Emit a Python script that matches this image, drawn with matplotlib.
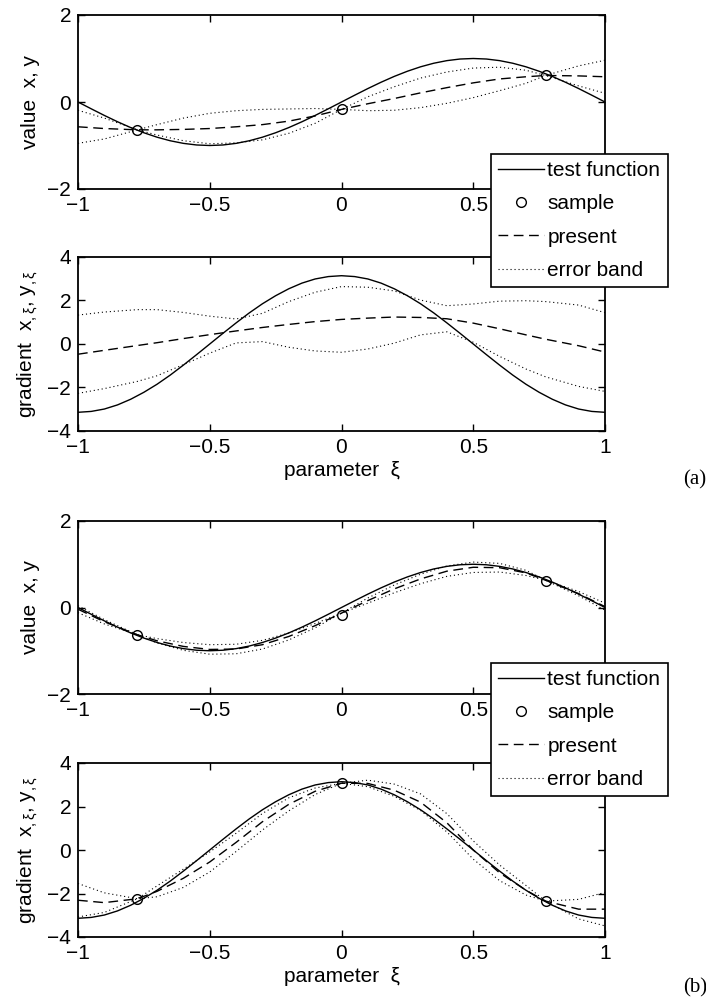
import matplotlib
matplotlib.use("Agg")
import matplotlib.pyplot as plt

plt.rcParams['font.family'] = ['Liberation Sans', 'DejaVu Sans']
plt.rcParams['mathtext.fontset'] = 'custom'
plt.rcParams['mathtext.rm'] = 'Liberation Sans'
plt.rcParams['mathtext.it'] = 'Liberation Sans:italic'

# fine grid for the exact test function, coarse grid for the fitted curves
xi_fine = [-1.0, -0.95, -0.9, -0.85, -0.8, -0.75, -0.7, -0.65, -0.6, -0.55, -0.5,
           -0.45, -0.4, -0.35, -0.3, -0.25, -0.2, -0.15, -0.1, -0.05, 0.0,
           0.05, 0.1, 0.15, 0.2, 0.25, 0.3, 0.35, 0.4, 0.45, 0.5,
           0.55, 0.6, 0.65, 0.7, 0.75, 0.8, 0.85, 0.9, 0.95, 1.0]
test_value = [0.0, -0.156, -0.309, -0.454, -0.588, -0.707, -0.809, -0.891, -0.951, -0.988, -1.0,
              -0.988, -0.951, -0.891, -0.809, -0.707, -0.588, -0.454, -0.309, -0.156, 0.0,
              0.156, 0.309, 0.454, 0.588, 0.707, 0.809, 0.891, 0.951, 0.988, 1.0,
              0.988, 0.951, 0.891, 0.809, 0.707, 0.588, 0.454, 0.309, 0.156, 0.0]
test_grad = [-3.14, -3.10, -2.99, -2.80, -2.54, -2.22, -1.85, -1.43, -0.97, -0.49, 0.0,
             0.49, 0.97, 1.43, 1.85, 2.22, 2.54, 2.80, 2.99, 3.10, 3.14,
             3.10, 2.99, 2.80, 2.54, 2.22, 1.85, 1.43, 0.97, 0.49, 0.0,
             -0.49, -0.97, -1.43, -1.85, -2.22, -2.54, -2.80, -2.99, -3.10, -3.14]

xi = [-1.0, -0.9, -0.7746, -0.7, -0.6, -0.5, -0.4, -0.3, -0.2, -0.1, 0.0,
      0.1, 0.2, 0.3, 0.4, 0.5, 0.6, 0.7, 0.7746, 0.9, 1.0]

xi_sample = [-0.7746, 0.0, 0.7746]
sample_value = [-0.64, -0.17, 0.61]
sample_grad = [-2.24, 3.07, -2.35]

# (a) value-only samples
a_val_present = [-0.57, -0.61, -0.64, -0.64, -0.63, -0.61, -0.57, -0.52, -0.44, -0.32, -0.17,
                 -0.04, 0.08, 0.21, 0.33, 0.44, 0.53, 0.58, 0.61, 0.60, 0.58]
a_val_band1 = [-0.19, -0.37, -0.64, -0.76, -0.89, -0.96, -0.94, -0.87, -0.72, -0.49, -0.17,
               0.12, 0.35, 0.55, 0.69, 0.78, 0.80, 0.73, 0.61, 0.37, 0.20]
a_val_band2 = [-0.95, -0.85, -0.64, -0.52, -0.37, -0.26, -0.20, -0.17, -0.16, -0.15, -0.17,
               -0.20, -0.19, -0.13, -0.03, 0.10, 0.26, 0.43, 0.61, 0.83, 0.96]

a_grad_present = [-0.47, -0.29, -0.07, 0.06, 0.25, 0.43, 0.60, 0.76, 0.90, 1.03, 1.13,
                  1.19, 1.24, 1.22, 1.16, 0.96, 0.70, 0.42, 0.22, -0.08, -0.37]
a_grad_upper = [1.33, 1.47, 1.58, 1.58, 1.45, 1.28, 1.15, 1.41, 1.95, 2.38, 2.64,
                2.61, 2.44, 2.02, 1.76, 1.84, 1.97, 1.99, 1.95, 1.79, 1.44]
a_grad_lower = [-2.27, -2.05, -1.72, -1.46, -0.95, -0.42, 0.05, 0.11, -0.15, -0.32, -0.38,
                -0.23, 0.04, 0.42, 0.56, 0.08, -0.57, -1.15, -1.51, -1.95, -2.18]

# (b) value and gradient samples
b_val_present = [-0.04, -0.33, -0.63, -0.77, -0.90, -0.97, -0.96, -0.86, -0.67, -0.42, -0.13,
                 0.16, 0.43, 0.66, 0.84, 0.93, 0.92, 0.80, 0.63, 0.32, 0.02]
b_val_band1 = [0.04, -0.28, -0.63, -0.82, -0.99, -1.08, -1.07, -0.96, -0.75, -0.47, -0.13,
               0.22, 0.52, 0.77, 0.96, 1.05, 1.02, 0.86, 0.63, 0.27, -0.06]
b_val_band2 = [-0.12, -0.38, -0.63, -0.72, -0.81, -0.86, -0.85, -0.76, -0.59, -0.37, -0.13,
               0.10, 0.34, 0.55, 0.72, 0.81, 0.82, 0.74, 0.63, 0.37, 0.10]

b_grad_present = [-2.31, -2.42, -2.24, -1.90, -1.30, -0.55, 0.35, 1.30, 2.10, 2.70, 3.07,
                  3.06, 2.75, 2.20, 1.25, 0.0, -1.05, -1.85, -2.35, -2.72, -2.72]
b_grad_band1 = [-1.54, -1.97, -2.24, -2.15, -1.72, -1.01, -0.07, 0.92, 1.80, 2.55, 3.07,
                3.21, 3.03, 2.58, 1.67, 0.42, -0.69, -1.63, -2.35, -3.17, -3.49]
b_grad_band2 = [-3.08, -2.87, -2.24, -1.65, -0.88, -0.09, 0.77, 1.68, 2.40, 2.85, 3.07,
                2.91, 2.47, 1.82, 0.83, -0.42, -1.41, -2.07, -2.35, -2.27, -1.95]

FS = 15
LW = 1.0
DASH = (0, (7, 4))
DOT = (0, (1, 2.6))

fig = plt.figure(figsize=(7.06, 10.02), dpi=100)
W, H = 706, 1002

def make_ax(top, bottom):
    ax = fig.add_axes([78 / W, 1 - bottom / H, 527 / W, (bottom - top) / H])
    ax.set_xlim(-1, 1)
    ax.set_xticks([-1, -0.5, 0, 0.5, 1])
    ax.set_xticklabels(['\u22121', '\u22120.5', '0', '0.5', '1'])
    ax.tick_params(direction='in', top=True, right=True, length=5, width=1.0,
                   labelsize=FS, pad=5)
    for s in ax.spines.values():
        s.set_linewidth(1.3)
    return ax

def draw(ax, present, band1, band2, grad, samples=None):
    ax.plot(xi_fine, grad, color='k', lw=LW, label='test function')
    if samples is not None:
        ax.plot(xi_sample, samples, 'o', mfc='none', mec='k', ms=7, mew=1.0,
                label='sample')
    ax.plot(xi, present, color='k', lw=LW, ls=DASH, label='present')
    ax.plot(xi, band1, color='k', lw=0.8, ls=DOT, label='error band')
    ax.plot(xi, band2, color='k', lw=0.8, ls=DOT)

val_label = 'value  x, y'
grad_label = r'gradient  x$_{\mathrm{,\xi}}$, y$_{\mathrm{,\xi}}$'

ax1 = make_ax(15, 189)
draw(ax1, a_val_present, a_val_band1, a_val_band2, test_value, sample_value)
ax1.set_ylim(-2, 2); ax1.set_yticks([-2, 0, 2])
ax1.set_ylabel(val_label, fontsize=FS, labelpad=5)

ax2 = make_ax(257, 431)
draw(ax2, a_grad_present, a_grad_upper, a_grad_lower, test_grad)
ax2.set_ylim(-4, 4); ax2.set_yticks([-4, -2, 0, 2, 4])
ax2.set_ylabel(grad_label, fontsize=FS, labelpad=5)
ax2.set_xlabel('parameter  \u03be', fontsize=FS, labelpad=3)

ax3 = make_ax(521, 694)
draw(ax3, b_val_present, b_val_band1, b_val_band2, test_value, sample_value)
ax3.set_ylim(-2, 2); ax3.set_yticks([-2, 0, 2])
ax3.set_ylabel(val_label, fontsize=FS, labelpad=5)

ax4 = make_ax(763, 937)
draw(ax4, b_grad_present, b_grad_band1, b_grad_band2, test_grad, sample_grad)
ax4.set_ylim(-4, 4); ax4.set_yticks([-4, -2, 0, 2, 4])
ax4.set_ylabel(grad_label, fontsize=FS, labelpad=5)
ax4.set_xlabel('parameter  \u03be', fontsize=FS, labelpad=3)

for ax, top in [(ax1, 154), (ax3, 663)]:
    h, l = ax.get_legend_handles_labels()
    leg = fig.legend(h, l, loc='upper left', bbox_to_anchor=(491 / W, 1 - top / H),
                     fontsize=FS, frameon=True, fancybox=False, framealpha=1,
                     edgecolor='k', borderpad=0.35, handlelength=2.2,
                     handletextpad=0.15, labelspacing=0.68, borderaxespad=0)
    leg.get_frame().set_linewidth(1.2)

fig.text(695 / W, 1 - 480 / H, '(a)', ha='center', va='center', fontsize=15,
         family=['Liberation Serif', 'DejaVu Serif'])
fig.text(695 / W, 1 - 988 / H, '(b)', ha='center', va='center', fontsize=15,
         family=['Liberation Serif', 'DejaVu Serif'])

fig.savefig('out.png', dpi=100)
